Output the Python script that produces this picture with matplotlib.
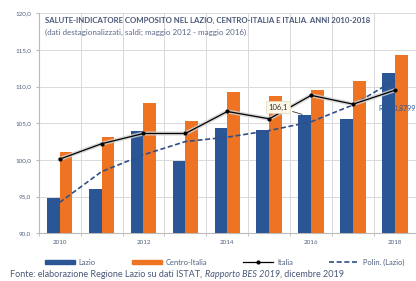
import matplotlib.pyplot as plt
from matplotlib.lines import Line2D
from matplotlib.patches import Patch
import numpy as np

# dati
anni = [2010, 2011, 2012, 2013, 2014, 2015, 2016, 2017, 2018]
lazio = [94.8, 96.0, 103.9, 99.8, 104.3, 104.1, 106.1, 105.6, 111.9]
centro = [101.1, 103.1, 107.8, 105.3, 109.2, 108.7, 109.5, 110.7, 114.3]
italia = [100.1, 102.2, 103.6, 103.6, 106.6, 105.6, 108.8, 107.6, 109.5]
polin = [94.2, 98.4, 100.7, 102.5, 103.1, 104.0, 105.2, 107.5, 110.9]
yticks = [90, 95, 100, 105, 110, 115, 120]
xticks = [2010, 2012, 2014, 2016, 2018]

BLU = '#2a5696'
ARANCIO = '#ee7424'
TESTO = '#51607e'

plt.rcParams['font.family'] = ['Lato', 'DejaVu Sans']

fig = plt.figure(figsize=(4.16, 2.81), dpi=100)
ax = fig.add_axes([0.093, 0.170, 0.907, 0.783])

x = np.array(anni)
w = 0.305
ax.bar(x - w / 2, lazio, w, color=BLU, zorder=3)
ax.bar(x + w / 2, centro, w, color=ARANCIO, zorder=3)

# linea Italia con alone grigio
ax.plot(x, italia, color='#d0d0d0', lw=3.0, alpha=0.8, zorder=4.5, solid_capstyle='round')
ax.plot(x, italia, color='black', lw=0.9, marker='o', ms=2.0, zorder=5)
ax.plot(x, polin, color='#2f4f86', lw=1.2, ls=(0, (3, 1.6)), zorder=4)

# etichetta dato 2016
ax.annotate('106,1', xy=(2016 - w / 2, lazio[6]), xytext=(2015.2, 107.2),
            fontsize=5.5, color='#333333', ha='center', va='center', zorder=6,
            bbox=dict(boxstyle='square,pad=0.3', fc='#fbf6e6', ec='#e0d8c0', lw=0.5),
            arrowprops=dict(arrowstyle='-', color='#333333', lw=0.6))
ax.text(2017.62, 107.0, 'R² = 0,8799', fontsize=5, color=BLU, zorder=6, va='center')

ax.set_xlim(2009.5, 2018.35)
ax.set_ylim(90, 120)
ax.set_yticks(yticks)
ax.set_yticklabels([f'{v:.1f}'.replace('.', ',') for v in yticks], fontsize=4.5, color=TESTO)
ax.set_xticks(xticks)
ax.set_xticklabels([str(v) for v in xticks], fontsize=4.5, color=TESTO)
ax.set_xticks(np.arange(2009.5, 2018.6, 1), minor=True)
ax.tick_params(axis='x', which='major', length=0, pad=5)
ax.tick_params(axis='x', which='minor', length=2.5, color='#bbbbbb')
ax.tick_params(axis='y', length=2.5, color='#bbbbbb', pad=3)

ax.grid(axis='y', color='#d9d9d9', lw=0.7, zorder=0)
ax.grid(axis='x', which='minor', color='#d9d9d9', lw=0.7, zorder=0)
for s in ['top', 'right']:
    ax.spines[s].set_visible(False)
for s in ['left', 'bottom']:
    ax.spines[s].set_color('#bbbbbb')
    ax.spines[s].set_linewidth(0.8)

ax.text(0.018, 0.985, 'SALUTE-INDICATORE COMPOSITO NEL LAZIO, CENTRO-ITALIA E ITALIA. ANNI 2010-2018',
        transform=ax.transAxes, fontsize=5.6, fontweight='bold', color='#4a5878', va='top')
ax.text(0.018, 0.93, '(dati destagionalizzati, saldi; maggio 2012 - maggio 2016)',
        transform=ax.transAxes, fontsize=5.8, color='#5a6888', va='top')

handles = [Patch(color=BLU), Patch(color=ARANCIO),
           Line2D([], [], color='black', lw=0.9, marker='o', ms=2.0),
           Line2D([], [], color='#2f4f86', lw=1.2, ls=(0, (3, 1.6)))]
labels = ['Lazio', 'Centro-Italia', 'Italia', 'Polin. (Lazio)']
fig.legend(handles, labels, loc='center', bbox_to_anchor=(0.54, 0.067), ncol=4,
           frameon=False, fontsize=5.4, handlelength=4.0, handleheight=0.6,
           columnspacing=4.8, labelcolor=TESTO, handletextpad=0.5)

# fonte, con parte in corsivo
parti = [('Fonte: elaborazione Regione Lazio su dati ISTAT, ', 'normal'),
         ('Rapporto BES 2019', 'italic'),
         (', dicembre 2019', 'normal')]
fig.canvas.draw()
rend = fig.canvas.get_renderer()
xpos = 0.025
for testo, stile in parti:
    t = fig.text(xpos, 0.014, testo, fontsize=6.5, color='#4a5878', style=stile)
    bb = t.get_window_extent(renderer=rend)
    xpos += bb.width / fig.bbox.width

fig.savefig('out.png', dpi=100)
